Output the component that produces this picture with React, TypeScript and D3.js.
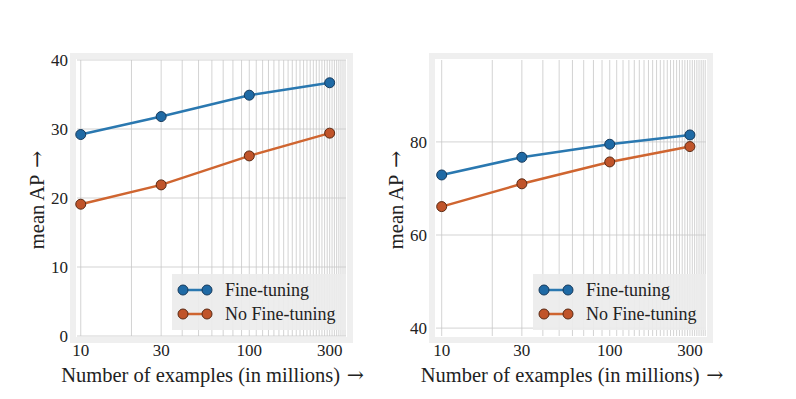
import React from 'react';
import * as d3 from 'd3';

const examples = [10, 30, 100, 300];
const xTicks = [10, 30, 100, 300];
const seriesNames = ['Fine-tuning', 'No Fine-tuning'];

const leftFineTuning = [29.2, 31.8, 34.9, 36.7];
const leftNoFineTuning = [19.1, 21.9, 26.1, 29.4];
const leftYTicks = [0, 10, 20, 30, 40];

const rightFineTuning = [72.9, 76.7, 79.5, 81.5];
const rightNoFineTuning = [66.1, 71.0, 75.7, 79.0];
const rightYTicks = [40, 60, 80];

const lineColors = ['#2a78b0', '#cf6530'];
const markerFill = ['#1f6aa5', '#c0542a'];
const markerEdge = ['#163a5c', '#5a2a14'];
const font = '"Liberation Serif", "DejaVu Serif", serif';

// vertical grid every 10 (the source axis draws them that way)
const gridX = d3.range(10, 380, 10);

type PanelProps = {
  x0: number;
  x1: number;
  xDomain: [number, number];
  yDomain: [number, number];
  yTicks: number[];
  series: number[][];
  legendX: number;
};

const Arrow = () => (
  <tspan fontFamily='"DejaVu Serif", serif' fontWeight={300}>{' →'}</tspan>
);

const Panel = ({ x0, x1, xDomain, yDomain, yTicks, series, legendX }: PanelProps) => {
  const top = 60;
  const bottom = 336;
  const x = d3.scaleLog().domain(xDomain).range([x0, x1]);
  const y = d3.scaleLinear().domain(yDomain).range([bottom, top]);
  const line = d3.line<number>()
    .x((_, i) => x(examples[i]))
    .y(d => y(d));

  const legendY = 274;
  return (
    <g>
      {/* soft frame */}
      <rect x={x0 - 4} y={top - 4} width={x1 - x0 + 8} height={bottom - top + 8}
        fill="none" stroke="#efefef" strokeWidth={6} />
      <rect x={x0} y={top} width={x1 - x0} height={bottom - top} fill="#fff" />
      {gridX.filter(v => x(v) <= x1).map(v => (
        <line key={'gx' + v} x1={x(v)} x2={x(v)} y1={top} y2={bottom}
          stroke="#c8c8c8" strokeWidth={0.8} />
      ))}
      {yTicks.filter(v => y(v) >= top && y(v) <= bottom).map(v => (
        <line key={'gy' + v} x1={x0} x2={x1} y1={y(v)} y2={y(v)}
          stroke="#c8c8c8" strokeWidth={0.8} />
      ))}

      {series.map((s, i) => (
        <g key={'s' + i}>
          <path d={line(s) || ''} fill="none" stroke={lineColors[i]} strokeWidth={2.5} />
          {s.map((v, j) => (
            <circle key={j} cx={x(examples[j])} cy={y(v)} r={5}
              fill={markerFill[i]} stroke={markerEdge[i]} strokeWidth={1} />
          ))}
        </g>
      ))}

      {/* legend */}
      <rect x={legendX} y={legendY} width={x1 - legendX} height={56} fill="#ebebeb" opacity={0.92} />
      {seriesNames.map((name, i) => {
        const ly = legendY + 16 + i * 24;
        return (
          <g key={name}>
            <line x1={legendX + 11} x2={legendX + 35} y1={ly} y2={ly}
              stroke={lineColors[i]} strokeWidth={2.5} />
            <circle cx={legendX + 11} cy={ly} r={5} fill={markerFill[i]} stroke={markerEdge[i]} />
            <circle cx={legendX + 35} cy={ly} r={5} fill={markerFill[i]} stroke={markerEdge[i]} />
            <text x={legendX + 53} y={ly} dy="0.35em" fontSize={18} fill="#222">{name}</text>
          </g>
        );
      })}

      {yTicks.map(v => (
        <text key={'ty' + v} x={x0 - 9} y={y(v)} dy="0.35em" textAnchor="end"
          fontSize={17} fill="#222">{v}</text>
      ))}
      {xTicks.map(v => (
        <text key={'tx' + v} x={x(v)} y={bottom + 14} dy="0.35em" textAnchor="middle"
          fontSize={17} fill="#222">{v}</text>
      ))}
      <text x={(x0 + x1) / 2 + 1} y={375} dy="0.35em" textAnchor="middle" fontSize={20.5} fill="#222">
        Number of examples (in millions)<Arrow />
      </text>
      <text transform={`translate(${x0 - 40},${(top + bottom) / 2 + 2}) rotate(-90)`} dy="0.35em"
        textAnchor="middle" fontSize={20.5} fill="#222">
        mean AP<Arrow />
      </text>
    </g>
  );
};

export default function App() {
  return (
    <svg width={796} height={399} style={{ display: 'block', margin: '-8px', fontFamily: font }}>
      <rect width={796} height={399} fill="#fff" />
      <Panel x0={77} x1={346} xDomain={[9.5, 375]} yDomain={[0, 40]} yTicks={leftYTicks}
        series={[leftFineTuning, leftNoFineTuning]} legendX={172} />
      <Panel x0={436} x1={706} xDomain={[9.25, 374]} yDomain={[38.3, 97.6]} yTicks={rightYTicks}
        series={[rightFineTuning, rightNoFineTuning]} legendX={533} />
    </svg>
  );
}
